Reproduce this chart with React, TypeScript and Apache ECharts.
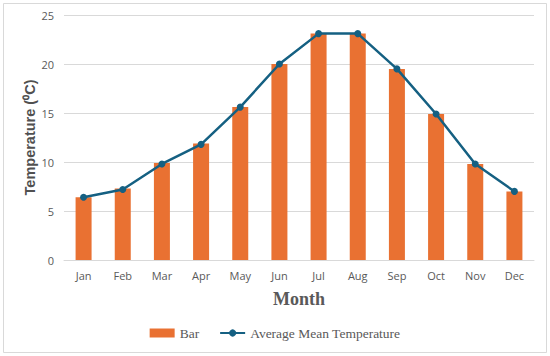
import React, { useEffect, useRef } from "react";
import * as echarts from "echarts";

const months = ["Jan", "Feb", "Mar", "Apr", "May", "Jun", "Jul", "Aug", "Sep", "Oct", "Nov", "Dec"];
const barValues = [6.4, 7.3, 9.9, 11.9, 15.6, 20.0, 23.1, 23.1, 19.5, 14.9, 9.8, 7.0];
const lineValues = [6.4, 7.2, 9.8, 11.8, 15.6, 20.0, 23.1, 23.1, 19.5, 14.9, 9.8, 7.0];

export default function App() {
  const ref = useRef<HTMLDivElement>(null);
  useEffect(() => {
    const chart = echarts.init(ref.current!, null, { renderer: "svg" });
    chart.setOption({
      animation: false,
      backgroundColor: "#ffffff",
      graphic: [
        {
          type: "rect",
          shape: { x: 3.5, y: 3.5, width: 543, height: 349 },
          style: { fill: "none", stroke: "#d9d9d9", lineWidth: 1 },
          silent: true,
        },
      ],
      grid: { left: 64, right: 16, top: 15, bottom: 96 },
      legend: {
        bottom: 11,
        left: "center",
        itemGap: 20,
        textStyle: { fontFamily: "Liberation Serif", fontSize: 13.5, color: "#595959" },
        data: [
          { name: "Bar", icon: "rect", itemStyle: { color: "#E97132" } },
          { name: "Average Mean Temperature" },
        ],
        itemWidth: 25,
        itemHeight: 9,
      },
      xAxis: {
        type: "category",
        data: months,
        name: "Month",
        nameLocation: "middle",
        nameGap: 30,
        nameTextStyle: { fontFamily: "Liberation Serif", fontSize: 18, fontWeight: "bold", color: "#595959" },
        axisLine: { lineStyle: { color: "#d9d9d9" } },
        axisTick: { show: false },
        axisLabel: { color: "#595959", fontSize: 11, fontFamily: "Open Sans", margin: 10 },
      },
      yAxis: {
        type: "value",
        min: 0,
        max: 25,
        interval: 5,
        name: "Temperature (\u2070C)",
        nameLocation: "middle",
        nameGap: 27,
        nameMoveOverlap: false,
        nameTextStyle: { fontFamily: "Liberation Sans", fontSize: 14.5, fontWeight: "bold", color: "#505050" },
        axisLine: { show: false },
        axisTick: { show: false },
        axisLabel: { color: "#595959", fontSize: 11, fontFamily: "Open Sans", margin: 10 },
        splitLine: { lineStyle: { color: "#d9d9d9" } },
      },
      series: [
        {
          name: "Bar",
          type: "bar",
          data: barValues,
          barWidth: 16,
          itemStyle: { color: "#E97132" },
        },
        {
          name: "Average Mean Temperature",
          type: "line",
          data: lineValues,
          symbol: "circle",
          symbolSize: 7,
          lineStyle: { color: "#156082", width: 2.5 },
          itemStyle: { color: "#156082" },
        },
      ],
    });
    return () => chart.dispose();
  }, []);
  return <div ref={ref} style={{ position: "fixed", left: 0, top: 0, width: 550, height: 356 }} />;
}
